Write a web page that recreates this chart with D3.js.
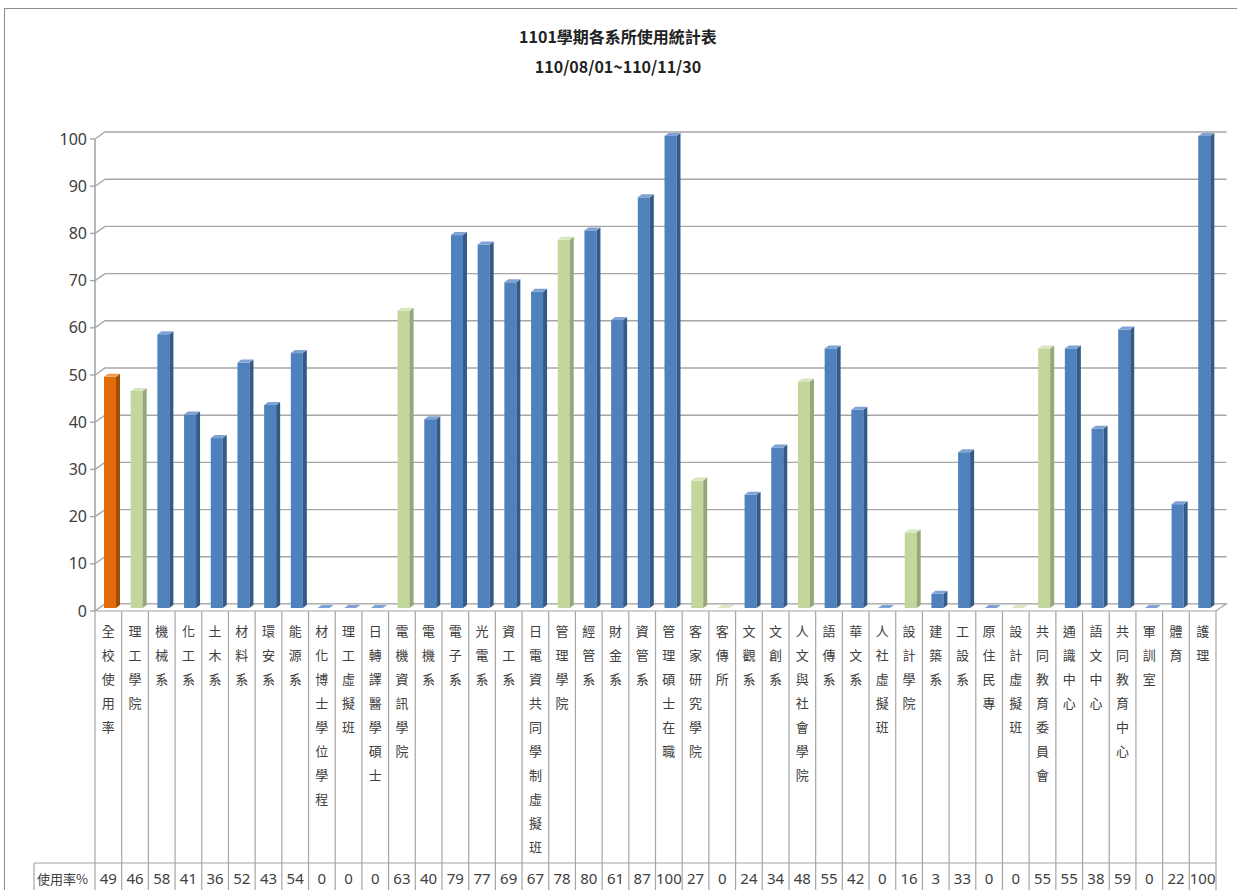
<!DOCTYPE html>
<html>
<head>
<meta charset="utf-8">
<script src="https://cdn.jsdelivr.net/npm/d3@7"></script>
<style>
  body { margin: 0; background: #fff; }
  svg { display: block; }
</style>
</head>
<body>
<svg width="1237" height="890"></svg>
<script>
// data
const categories = ["全校使用率","理工學院","機械系","化工系","土木系","材料系","環安系","能源系",
  "材化博士學位學程","理工虛擬班","日轉譯醫學碩士","電機資訊學院","電機系","電子系","光電系","資工系",
  "日電資共同學制虛擬班","管理學院","經管系","財金系","資管系","管理碩士在職","客家研究學院","客傳所",
  "文觀系","文創系","人文與社會學院","語傳系","華文系","人社虛擬班","設計學院","建築系","工設系",
  "原住民專","設計虛擬班","共同教育委員會","通識中心","語文中心","共同教育中心","軍訓室","體育","護理"];
const usage = [49,46,58,41,36,52,43,54,0,0,0,63,40,79,77,69,67,78,80,61,87,100,27,0,24,34,48,55,42,0,16,3,33,0,0,55,55,38,59,0,22,100];
// bar colour group: s = whole school, c = college (green), d = department (blue)
const groups = ["s","c","d","d","d","d","d","d","d","d","d","c","d","d","d","d","d","c","d","d","d","d","c","c",
  "d","d","c","d","d","d","c","d","d","d","c","c","d","d","d","d","d","d"];
const yTicks = [0,10,20,30,40,50,60,70,80,90,100];
const rowLabel = "使用率%";

const colors = {
  s: {front: "#E46C0A", side: "#A04E08", top: "#F29A53"},
  c: {front: "#C3D69B", side: "#97A878", top: "#D9E6C0"},
  d: {front: "#4F81BD", side: "#345A88", top: "#7EA3D2"}
};

const svg = d3.select("svg");
const gridColor = "#A6A6A6";
const textColor = "#404040";
const font = "'Noto Sans CJK TC', 'Noto Sans', sans-serif";

// chart frame
svg.append("rect")
  .attr("x", 4.5).attr("y", 8.5)
  .attr("width", 1250).attr("height", 900)
  .attr("fill", "none").attr("stroke", "#8C8C8C");

// titles
svg.append("text")
  .attr("x", 618).attr("y", 43)
  .attr("text-anchor", "middle")
  .style("font-family", font).style("font-size", "16px").style("font-weight", "bold")
  .attr("fill", "#222")
  .text("1101學期各系所使用統計表");
svg.append("text")
  .attr("x", 618).attr("y", 73)
  .attr("text-anchor", "middle")
  .style("font-family", font).style("font-size", "16px").style("font-weight", "bold")
  .attr("fill", "#222")
  .text("110/08/01~110/11/30");

// scales
const left = 95, right = 1216;
const depthX = 10, depthY = -7;   // back wall offset
const x = d3.scaleBand().domain(categories).range([left, right]).paddingInner(0);
const y = d3.scaleLinear().domain([0, 100]).range([611, 139]);
const bw = x.bandwidth();

// gridlines: left wall diagonal + back wall horizontal
const grid = svg.append("g").attr("id", "grid");
grid.selectAll("path")
  .data(yTicks)
  .join("path")
    .attr("d", d => `M${left},${y(d)} L${left + depthX},${y(d) + depthY} L${right + depthX + 0.5},${y(d) + depthY}`)
    .attr("fill", "none")
    .attr("stroke", gridColor)
    .attr("stroke-width", 1.4);

// floor
svg.append("path")
  .attr("d", `M${left},${y(0)} L${right},${y(0)} L${right + depthX},${y(0) + depthY} L${left + depthX},${y(0) + depthY}Z`)
  .attr("fill", "#fff")
  .attr("stroke", gridColor)
  .attr("stroke-width", 1.2);

// y axis line and ticks
svg.append("line")
  .attr("x1", left).attr("x2", left)
  .attr("y1", y(100)).attr("y2", y(0))
  .attr("stroke", gridColor).attr("stroke-width", 1.6);
svg.append("g").selectAll("line")
  .data(yTicks)
  .join("line")
    .attr("x1", left - 5).attr("x2", left)
    .attr("y1", d => y(d)).attr("y2", d => y(d))
    .attr("stroke", gridColor).attr("stroke-width", 1.4);
svg.append("g").selectAll("text")
  .data(yTicks)
  .join("text")
    .attr("x", left - 8)
    .attr("y", d => y(d))
    .attr("dy", "0.35em")
    .attr("text-anchor", "end")
    .style("font-family", "'Noto Sans', sans-serif")
    .style("font-size", "16px")
    .attr("fill", textColor)
    .text(d => d);

// 3D bars
const fw = 12, sx = 4, sy = -3, off = -3;
const bars = svg.append("g").attr("id", "bars")
  .selectAll("g")
  .data(categories.map((c, i) => ({c: c, v: usage[i], g: groups[i]})))
  .join("g");

bars.append("rect")
  .attr("x", d => x(d.c) + 9)
  .attr("y", d => y(d.v) + off)
  .attr("width", fw)
  .attr("height", d => y(0) - y(d.v))
  .attr("fill", d => colors[d.g].front);
bars.append("path")
  .attr("d", d => {
    const x1 = x(d.c) + 9 + fw, t = y(d.v) + off, b = y(0) + off;
    return `M${x1},${t} L${x1 + sx},${t + sy} L${x1 + sx},${b + sy} L${x1},${b}Z`;
  })
  .attr("fill", d => colors[d.g].side);
bars.append("path")
  .attr("d", d => {
    const x0 = x(d.c) + 9, t = y(d.v) + off;
    return `M${x0},${t} L${x0 + sx},${t + sy} L${x0 + fw + sx},${t + sy} L${x0 + fw},${t}Z`;
  })
  .attr("fill", d => colors[d.g].top);

// data table
const tableTop = y(0), valueTop = 863, tableBottom = 900;
const table = svg.append("g").attr("id", "table");
table.selectAll("line.col")
  .data(d3.range(categories.length + 1))
  .join("line")
    .attr("class", "col")
    .attr("x1", i => left + i * bw).attr("x2", i => left + i * bw)
    .attr("y1", tableTop).attr("y2", tableBottom)
    .attr("stroke", gridColor).attr("stroke-width", 1.2);
table.append("line")
  .attr("x1", 34).attr("x2", right)
  .attr("y1", valueTop).attr("y2", valueTop)
  .attr("stroke", gridColor).attr("stroke-width", 1.2);
table.append("line")
  .attr("x1", 34).attr("x2", 34)
  .attr("y1", valueTop).attr("y2", tableBottom)
  .attr("stroke", gridColor).attr("stroke-width", 1.2);

// vertical category labels, one character per line
table.selectAll("text.cat")
  .data(categories)
  .join("text")
    .attr("class", "cat")
    .attr("text-anchor", "middle")
    .style("font-family", font)
    .style("font-size", "13px")
    .attr("fill", textColor)
    .each(function(d) {
      const t = d3.select(this);
      Array.from(d).forEach((ch, i) => {
        t.append("tspan")
          .attr("x", x(d) + bw / 2)
          .attr("y", 636 + i * 24)
          .text(ch);
      });
    });

table.selectAll("text.val")
  .data(usage)
  .join("text")
    .attr("class", "val")
    .attr("x", (d, i) => x(categories[i]) + bw / 2)
    .attr("y", 884)
    .attr("text-anchor", "middle")
    .style("font-family", "'Noto Sans', sans-serif")
    .style("font-size", "15px")
    .attr("fill", textColor)
    .text(d => d);

table.append("text")
  .attr("x", 37).attr("y", 884)
  .style("font-family", font)
  .style("font-size", "13px")
  .attr("fill", textColor)
  .text(rowLabel);
</script>
</body>
</html>
